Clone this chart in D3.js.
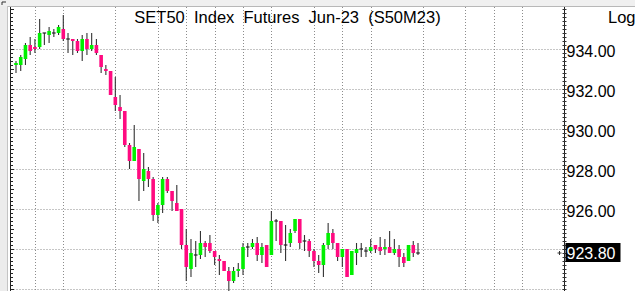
<!DOCTYPE html>
<html><head><meta charset="utf-8">
<script src="https://cdn.jsdelivr.net/npm/d3@7"></script>
<style>html,body{margin:0;padding:0;background:#fff;overflow:hidden}svg{display:block}text{font-family:"Liberation Sans",Arial,sans-serif}</style>
</head><body>
<script>
const title = "SET50  Index  Futures  Jun-23  (S50M23)";
const scaleLabel = "Log";
const lastPrice = 923.80;
const open = [933.2,933.2,933.5,934.2,934.1,934.1,934.8,934.7,934.8,934.8,
935.0,934.5,934.5,934.4,933.9,934.5,934.0,934.2,933.7,933.0,
932.9,931.6,931.1,930.9,929.2,928.4,929.0,927.4,927.9,927.5,
925.7,926.2,927.5,926.9,926.3,926.0,924.2,923.0,923.7,923.7,
924.3,924.3,923.9,923.5,923.4,922.9,922.4,922.9,923.0,924.1,
924.1,924.3,923.7,924.2,923.7,925.4,925.4,924.2,924.3,924.9,
925.5,924.4,924.4,923.9,923.4,923.2,924.2,924.8,924.3,923.6,
924.0,922.7,923.8,924.0,923.9,923.9,924.2,924.1,924.0,924.1,
923.8,924.0,923.6,923.4,924.2,923.8];
const high = [933.4,933.7,934.3,934.6,934.5,935.5,934.8,935.1,935.0,935.2,
935.7,934.8,934.5,934.5,934.7,934.8,934.8,934.5,933.7,933.2,
932.9,932.6,931.7,930.9,929.3,930.2,929.0,928.8,928.1,927.6,
926.3,927.6,927.6,926.9,927.2,926.0,925.0,924.5,924.4,924.9,
924.4,924.7,923.9,923.7,923.4,923.1,923.1,923.3,924.3,924.3,
924.5,924.6,924.3,924.2,925.9,925.5,925.4,925.2,925.0,925.5,
925.5,924.7,924.5,924.0,923.7,924.3,925.3,925.0,924.3,924.0,
924.0,923.9,924.3,924.3,924.1,924.5,924.2,924.6,924.5,924.9,
924.5,924.2,923.8,924.2,924.4,924.3];
const low = [932.8,932.9,933.2,933.7,933.8,934.0,934.2,934.3,934.6,934.7,
934.4,933.8,933.7,933.8,933.4,933.7,933.9,933.7,932.8,932.7,
931.7,930.9,930.5,929.1,928.0,928.4,926.4,926.9,927.1,925.4,
925.3,925.8,926.8,925.9,925.9,924.0,922.4,922.6,923.1,923.5,
923.6,923.8,923.2,922.7,922.9,921.9,922.3,922.6,922.7,923.6,
924.0,923.4,923.3,923.1,923.7,924.4,923.8,923.4,924.1,924.8,
924.0,923.9,923.6,923.1,922.8,922.6,924.0,924.0,923.4,923.1,
922.6,922.7,923.2,923.6,923.6,923.8,923.8,923.7,923.7,923.8,
923.7,923.1,923.1,923.4,923.6,923.7];
const close = [933.3,933.6,934.2,933.9,934.0,934.8,934.8,934.9,934.8,935.1,
934.5,934.5,934.4,933.9,934.5,934.0,934.2,933.8,933.1,932.9,
931.7,931.2,930.9,929.2,928.4,929.1,927.5,928.0,927.5,925.7,
926.2,927.5,926.9,926.4,925.9,924.2,923.1,923.8,923.7,924.3,
924.1,923.9,923.6,923.4,922.9,922.4,922.9,923.0,924.1,924.1,
924.3,923.7,924.1,923.1,925.4,925.4,924.2,924.2,924.8,925.5,
924.3,924.4,923.9,923.4,923.2,924.2,924.8,924.3,923.6,924.0,
922.6,923.9,924.0,924.0,923.9,924.1,924.0,923.9,924.1,923.8,
924.0,923.6,923.3,924.2,923.8,923.8];
const yGridValues = [922,924,926,928,930,932,934];
const yLabelValues = [926,928,930,932,934];
const xGridIndex = [4,10,21,30,36,42,48,54,63,69,75,86,95,101,107];

const W = 635, H = 291;
const L = 10.5, R = 564.5, T = 7, B = 291;
const svg = d3.select("body").append("svg").attr("width", W).attr("height", H);
const x = d3.scaleLinear().domain([0, 85]).range([16, 418]);
const y = d3.scaleLinear().domain([922, 934]).range([289, 49]);

// frame chrome
svg.append("rect").attr("x",0).attr("y",0).attr("width",W).attr("height",6).attr("fill","#f0f0f0");
svg.append("line").attr("x1",0).attr("x2",W).attr("y1",6.5).attr("y2",6.5).attr("stroke","#b8b8b8");
svg.append("rect").attr("x",0).attr("y",6).attr("width",7).attr("height",H).attr("fill","#ececec");
svg.append("line").attr("x1",7.5).attr("x2",7.5).attr("y1",6).attr("y2",H).attr("stroke","#c4c4c4");
svg.append("path").attr("d","M2,5V2H6").attr("fill","none").attr("stroke","#333");

const plot = svg.append("g");
// grid
plot.selectAll(".hg").data(yGridValues).join("line")
  .attr("x1",L).attr("x2",R).attr("y1",d=>Math.round(y(d))+0.5).attr("y2",d=>Math.round(y(d))+0.5)
  .attr("stroke","#8c8c8c").attr("stroke-dasharray","1,2");
plot.selectAll(".vg").data(xGridIndex).join("line")
  .attr("x1",d=>Math.round(x(d))+0.5).attr("x2",d=>Math.round(x(d))+0.5).attr("y1",T).attr("y2",B)
  .attr("stroke","#8c8c8c").attr("stroke-dasharray","1,2");

// axes lines and minor ticks
const minor = d3.range(9220, 9362, 2).map(v=>v/10);
svg.append("line").attr("x1",L).attr("x2",L).attr("y1",T).attr("y2",B).attr("stroke","#222");
svg.selectAll(".lt").data(minor).join("line")
  .attr("x1",L).attr("x2",d=>Math.abs(d-Math.round(d))<1e-6?L+3.5:L+2.5)
  .attr("y1",d=>Math.round(y(d))+0.5).attr("y2",d=>Math.round(y(d))+0.5).attr("stroke","#222");

const rAxis = d3.axisRight(y).tickValues(yLabelValues).tickFormat(d3.format(".2f")).tickSize(2).tickPadding(0);
const ag = svg.append("g").attr("transform",`translate(${R},0)`).call(rAxis);
ag.select(".domain").remove();
ag.selectAll(".tick line").attr("stroke","#222");
ag.selectAll("text").attr("font-size","16px").attr("fill","#000").attr("dy","0.45em")
  .style("font-family","'Liberation Sans',Arial,sans-serif");
svg.append("line").attr("x1",R).attr("x2",R).attr("y1",T).attr("y2",B).attr("stroke","#222");
svg.selectAll(".rt").data(minor).join("line")
  .attr("x1",R-2).attr("x2",R+2)
  .attr("y1",d=>Math.round(y(d))+0.5).attr("y2",d=>Math.round(y(d))+0.5).attr("stroke","#333");

// candles
const idx = d3.range(open.length);
const bw = 3.6;
const cg = plot.append("g");
cg.selectAll(".wick").data(idx).join("line")
  .attr("x1",i=>x(i)).attr("x2",i=>x(i)).attr("y1",i=>y(high[i])).attr("y2",i=>y(low[i]))
  .attr("stroke","#333").attr("stroke-width",1.1);
cg.selectAll(".body").data(idx.filter(i=>open[i]!==close[i])).join("rect")
  .attr("x",i=>x(i)-bw/2).attr("width",bw)
  .attr("y",i=>y(Math.max(open[i],close[i])))
  .attr("height",i=>Math.abs(y(open[i])-y(close[i])))
  .attr("fill",i=>close[i]>open[i]?"#00f000":"#ff0a80");
cg.selectAll(".doji").data(idx.filter(i=>open[i]===close[i])).join("line")
  .attr("x1",i=>x(i)-bw/2).attr("x2",i=>x(i)+bw/2).attr("y1",i=>y(open[i])).attr("y2",i=>y(open[i]))
  .attr("stroke","#222").attr("stroke-width",1.2);

// last price marker
const yl = y(lastPrice);
svg.append("path").attr("d",`M${R-7},${yl}H${R-3}M${R-5},${yl-2}V${yl+2}`).attr("stroke","#333").attr("stroke-width",1);
svg.append("rect").attr("x",R+1).attr("y",yl-10).attr("width",55).attr("height",19).attr("fill","#000");
svg.append("text").attr("x",R+2).attr("y",yl+6).attr("fill","#fff").attr("font-size","16px").text(d3.format(".2f")(lastPrice));

// title and scale label
svg.append("text").attr("x",(L+R)/2).attr("y",23).attr("text-anchor","middle").attr("font-size","16.5px")
  .style("white-space","pre").attr("fill","#000").text(title);
svg.append("text").attr("x",608).attr("y",23).attr("font-size","16.5px").attr("fill","#000").text(scaleLabel);
</script>
</body></html>
